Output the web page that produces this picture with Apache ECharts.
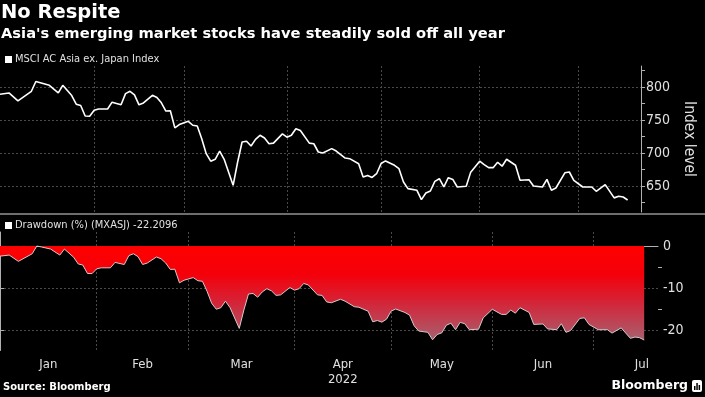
<!DOCTYPE html>
<html><head><meta charset="utf-8">
<script src="https://cdn.jsdelivr.net/npm/echarts@6/dist/echarts.min.js"></script>
<style>html,body{margin:0;padding:0;background:#000;}#c{width:705px;height:397px;}</style>
</head><body><div id="c"></div>
<script>
// ---- data ----
const indexDates = ['2022-01-03','2022-01-05','2022-01-07','2022-01-12','2022-01-13','2022-01-14','2022-01-18','2022-01-20','2022-01-21','2022-01-25','2022-01-26','2022-01-27','2022-01-28','2022-01-31',
'2022-02-01','2022-02-02','2022-02-04','2022-02-07','2022-02-09','2022-02-10','2022-02-11','2022-02-14','2022-02-15','2022-02-16','2022-02-18','2022-02-21','2022-02-22','2022-02-23','2022-02-24','2022-02-25','2022-02-28',
'2022-03-02','2022-03-03','2022-03-04','2022-03-07','2022-03-08','2022-03-09','2022-03-10','2022-03-11','2022-03-14','2022-03-16','2022-03-17','2022-03-18','2022-03-21','2022-03-22','2022-03-23','2022-03-24','2022-03-25','2022-03-28','2022-03-29','2022-03-31',
'2022-04-01','2022-04-04','2022-04-05','2022-04-06','2022-04-08','2022-04-11','2022-04-12','2022-04-13','2022-04-15','2022-04-18','2022-04-20','2022-04-21','2022-04-25','2022-04-26','2022-04-27','2022-04-28','2022-04-29',
'2022-05-02','2022-05-03','2022-05-05','2022-05-06','2022-05-09','2022-05-10','2022-05-12','2022-05-13','2022-05-16','2022-05-17','2022-05-18','2022-05-19','2022-05-20','2022-05-23','2022-05-24','2022-05-25','2022-05-27','2022-05-30',
'2022-06-01','2022-06-02','2022-06-03','2022-06-06','2022-06-07','2022-06-08','2022-06-09','2022-06-13','2022-06-14','2022-06-16','2022-06-17','2022-06-21','2022-06-22','2022-06-23','2022-06-24','2022-06-28','2022-06-29','2022-06-30',
'2022-07-04','2022-07-06','2022-07-07','2022-07-11','2022-07-13','2022-07-14','2022-07-15','2022-07-18'];
const indexValues = [789,791,779,793.5,808.3,806.5,802.5,791,802.5,787,774,772,756,755.6,
764.7,766.7,766.7,777,773,790,793.5,788,773,775.8,787.4,784,776,763.6,764,738,743,
748,742,741,721.7,699,687.6,690.5,703,690.5,651,686,716.7,717.7,710.6,720.7,726.8,722.7,714,715,729,
724,726.8,736.8,734,715,714,701.5,700,706.6,703,692.4,691.4,683.8,663.6,666,663,668.6,
684,688,681.4,676.3,656,646,643.5,629.3,639.4,642.4,657,661,648.5,662.6,660,648.5,649.5,671,
687.6,682.5,677.8,677.8,686,680,690.5,681.4,658.6,659.5,650,648.5,660,643.5,647,670,671.2,658.6,
648.5,648.5,642,652,632,634.5,633.3,628.8];
const drawdownValues = [-2.39,-2.14,-3.62,-1.83,0,-0.22,-0.72,-2.14,-0.72,-2.64,-4.24,-4.49,-6.47,-6.52,
-5.39,-5.15,-5.15,-3.87,-4.37,-2.26,-1.83,-2.51,-4.37,-4.02,-2.59,-3.01,-4.00,-5.53,-5.48,-8.70,-8.08,
-7.46,-8.20,-8.33,-10.71,-13.52,-14.93,-14.57,-13.03,-14.57,-19.46,-15.13,-11.33,-11.21,-12.09,-10.84,-10.08,-10.59,-11.67,-11.54,-9.81,
-10.43,-10.08,-8.85,-9.19,-11.54,-11.67,-13.21,-13.40,-12.58,-13.03,-14.34,-14.46,-15.40,-17.90,-17.60,-17.98,-17.28,
-15.38,-14.88,-15.70,-16.33,-18.84,-20.08,-20.39,-22.15,-20.90,-20.52,-18.72,-18.22,-19.77,-18.03,-18.35,-19.77,-19.65,-16.99,
-14.93,-15.56,-16.15,-16.15,-15.13,-15.87,-14.57,-15.70,-18.52,-18.41,-19.58,-19.77,-18.35,-20.39,-19.96,-17.11,-16.96,-18.52,
-19.77,-19.77,-20.57,-19.34,-21.81,-21.50,-21.65,-22.2096];
const monthNames = ['Jan','Feb','Mar','Apr','May','Jun','Jul'];
const yearLabel = '2022';
const topMajorTicks = [650,700,750,800];
const topMinorTicks = [625,675,725,775,825];
const bottomMajorTicks = [0,-10,-20];
const bottomMinorTicks = [-5,-15];
const seriesNames = ['MSCI AC Asia ex. Japan Index','Drawdown (%) (MXASJ) -22.2096'];

// ---- trading-day (weekday) calendar for the x axis ----
const cats = [];
const allDays = [];
for (let t = Date.UTC(2022,0,3); t <= Date.UTC(2022,7,1); t += 86400000) {
  const d = new Date(t), w = d.getUTCDay();
  if (w !== 0 && w !== 6) {
    const s = d.toISOString().slice(0,10);
    allDays.push(s);
    if (t <= Date.UTC(2022,6,21)) cats.push(s);
  }
}
const monthStarts = [0];
for (let i = 1; i < allDays.length; i++) if (allDays[i].slice(5,7) !== allDays[i-1].slice(5,7)) monthStarts.push(i);
const boundarySet = new Set(monthStarts.filter(i => i > 0 && i < cats.length));
const monthCenters = monthNames.map((m, k) => (monthStarts[k] + monthStarts[k+1]) / 2);

const idxData = indexDates.map((d, i) => [d, indexValues[i]]);
const ddData = indexDates.map((d, i) => [d, drawdownValues[i]]);

const TXT = '#e0e0e0', AX = '#b0b0b0', GRID = '#4a4a4a';
const tickFont = "'Liberation Sans Narrow','DejaVu Sans Condensed',sans-serif";
const split = { show: true, lineStyle: { color: GRID, width: 1, type: [2, 2] } };

const chart = echarts.init(document.getElementById('c'), null, { renderer: 'canvas' });
chart.setOption({
  backgroundColor: '#000',
  animation: false,
  title: [
    { text: 'No Respite', left: 1, top: 3, padding: 0, textStyle: { color: '#fff', fontFamily: 'DejaVu Sans', fontWeight: 'bold', fontSize: 19.5 } },
    { text: "Asia's emerging market stocks have steadily sold off all year", left: 1, top: 27, padding: 0, textStyle: { color: '#fff', fontFamily: 'DejaVu Sans', fontWeight: 'bold', fontSize: 14.7 } },
    { text: 'Source: Bloomberg', left: 3, top: 382, padding: 0, textStyle: { color: '#fff', fontFamily: 'DejaVu Sans', fontWeight: 'bold', fontSize: 10 } }
  ],
  legend: [
    { left: 5, top: 54, padding: 0, itemWidth: 7, itemHeight: 7, itemGap: 3, icon: 'rect', selectedMode: false,
      data: [{ name: seriesNames[0], itemStyle: { color: '#fff' } }], textStyle: { color: TXT, fontSize: 11, fontFamily: tickFont, padding: [0,0,0,-2] } },
    { left: 5, top: 220, padding: 0, itemWidth: 7, itemHeight: 7, itemGap: 3, icon: 'rect', selectedMode: false,
      data: [{ name: seriesNames[1], itemStyle: { color: '#fff' } }], textStyle: { color: TXT, fontSize: 11, fontFamily: tickFont, padding: [0,0,0,-2] } }
  ],
  grid: [
    { left: 0, right: 47, top: 66, height: 146 },
    { left: 0, right: 47, top: 232, height: 118.5 }
  ],
  xAxis: [
    { type: 'category', gridIndex: 0, data: cats, boundaryGap: false,
      axisLine: { show: false }, axisTick: { show: false }, axisLabel: { show: false },
      splitLine: Object.assign({ interval: (i) => boundarySet.has(i) }, split) },
    { type: 'category', gridIndex: 1, data: cats, boundaryGap: false,
      axisLine: { show: true, lineStyle: { color: AX, width: 1 } },
      axisTick: { show: true, interval: (i) => boundarySet.has(i), length: 4, lineStyle: { color: AX } },
      axisLabel: { show: false },
      splitLine: Object.assign({ interval: (i) => boundarySet.has(i) }, split) },
    { type: 'value', gridIndex: 1, min: 0, max: cats.length - 1, position: 'bottom',
      axisLine: { show: false }, axisTick: { show: false }, splitLine: { show: false },
      axisLabel: { show: true, customValues: monthCenters, margin: 7, color: TXT, fontSize: 13, fontFamily: tickFont, lineHeight: 15,
        formatter: (v) => { const k = monthCenters.findIndex(c => Math.abs(c - v) < 0.01); const m = monthNames[k] || ''; return m === 'Apr' ? m + '\n' + yearLabel : m; } } }
  ],
  yAxis: [
    { type: 'value', gridIndex: 0, position: 'right', min: 610.6, max: 831.8,
      axisLine: { show: true, lineStyle: { color: AX } },
      axisTick: { show: true, customValues: topMajorTicks, length: 4, lineStyle: { color: AX } },
      axisLabel: { customValues: topMajorTicks, margin: 5, color: TXT, fontSize: 14, fontFamily: tickFont },
      splitLine: split,
      name: 'Index level', nameLocation: 'middle', nameRotate: -90, nameGap: 31,
      nameTextStyle: { color: TXT, fontSize: 15.5, fontFamily: tickFont } },
    { type: 'value', gridIndex: 0, position: 'right', min: 610.6, max: 831.8,
      axisLine: { show: false }, axisLabel: { show: false }, splitLine: { show: false },
      axisTick: { show: true, customValues: topMinorTicks, length: 4, lineStyle: { color: AX } } },
    { type: 'value', gridIndex: 1, position: 'right', min: -24.68, max: 3.31,
      axisLine: { show: true, lineStyle: { color: AX } },
      axisTick: { show: true, customValues: bottomMajorTicks, length: 4, lineStyle: { color: AX } },
      axisLabel: { customValues: bottomMajorTicks, margin: 5, color: TXT, fontSize: 14, fontFamily: tickFont },
      splitLine: split },
    { type: 'value', gridIndex: 1, position: 'right', min: -24.68, max: 3.31,
      axisLine: { show: false }, axisLabel: { show: false }, splitLine: { show: false },
      axisTick: { show: true, customValues: bottomMinorTicks, length: 4, lineStyle: { color: AX } } }
  ],
  series: [
    { name: seriesNames[0], type: 'line', xAxisIndex: 0, yAxisIndex: 0, data: idxData, symbol: 'none',
      lineStyle: { color: '#ffffff', width: 1.6 }, itemStyle: { color: '#fff' } },
    { name: seriesNames[1], type: 'line', xAxisIndex: 1, yAxisIndex: 2, data: ddData, symbol: 'none',
      lineStyle: { color: '#d8c8cc', width: 1 }, itemStyle: { color: '#ff0000' },
      areaStyle: { opacity: 1, color: new echarts.graphic.LinearGradient(0, 0, 0, 1, [
        { offset: 0, color: '#ff0000' }, { offset: 0.3, color: '#f4000a' }, { offset: 0.6, color: '#d42438' }, { offset: 1, color: '#a8606e' }]) } }
  ],
  graphic: [
    { type: 'line', shape: { x1: 0, y1: 214, x2: 705, y2: 214 }, style: { stroke: '#6e6e6e', lineWidth: 2 }, silent: true },
    { type: 'text', right: 17, top: 379, style: { text: 'Bloomberg', fill: '#fff', font: "bold 12.5px 'DejaVu Sans'" } },
    { type: 'group', right: 3, top: 380, children: [
      { type: 'rect', shape: { x: 0, y: 0, width: 10, height: 12, r: 2 }, style: { fill: '#fff' } },
      { type: 'rect', shape: { x: 2, y: 6, width: 1.5, height: 4 }, style: { fill: '#000' } },
      { type: 'rect', shape: { x: 4.3, y: 3, width: 1.5, height: 7 }, style: { fill: '#000' } },
      { type: 'rect', shape: { x: 6.6, y: 5, width: 1.5, height: 5 }, style: { fill: '#000' } }
    ] }
  ]
});
</script></body></html>
